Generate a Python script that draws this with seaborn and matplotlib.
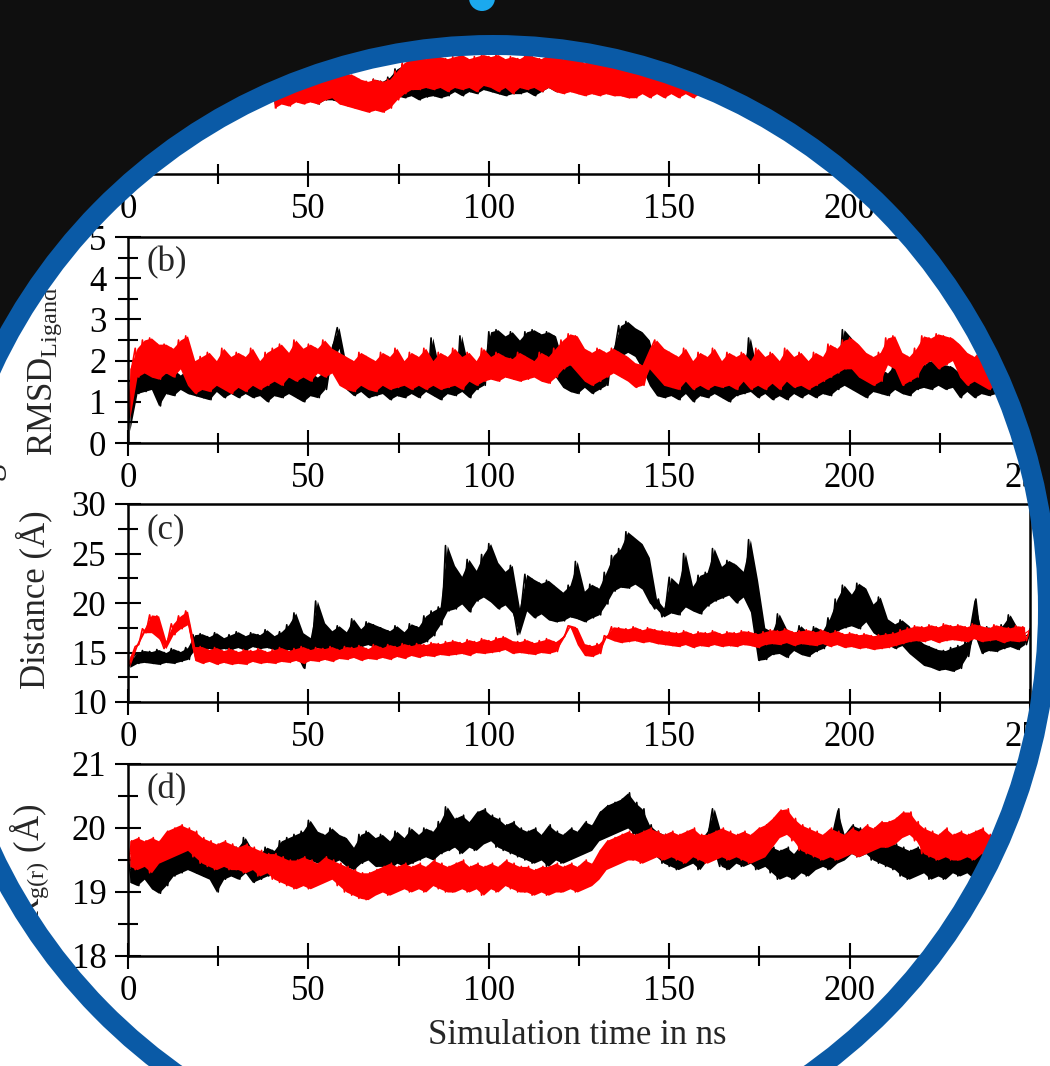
import numpy as np
import pandas as pd
import matplotlib
matplotlib.use("Agg")
import matplotlib.pyplot as plt
from matplotlib.patches import Polygon, Ellipse, Circle
from matplotlib.transforms import Affine2D
from matplotlib.ticker import MultipleLocator
import seaborn as sns

# ---- data (1 ns sampling) ----
# panel (a): only 40-170 ns is visible inside the lens
a_black = [2.2, 1.7, 2.35, 1.75, 2.3, 1.7, 2.35, 1.8, 2.3, 1.75,
           2.35, 1.8, 2.3, 1.7, 2.35, 1.8, 2.4, 1.8, 2.35, 1.75,
           2.3, 1.7, 2.2, 1.65, 2.25, 1.6, 2.2, 1.65, 2.3, 1.7,
           2.25, 1.75, 2.35, 1.8, 2.55, 1.9, 2.65, 1.85, 2.55, 1.9,
           2.65, 1.8, 2.55, 1.87, 2.65, 1.9, 2.75, 1.85, 2.55, 1.9,
           2.65, 2.0, 2.75, 1.9, 2.55, 2.0, 2.8, 1.95, 2.65, 2.05,
           2.75, 2.0, 2.8, 1.95, 2.65, 1.9, 2.8, 1.95, 2.75, 1.95,
           2.8, 2.0, 2.75, 1.9, 2.65, 2.0, 2.75, 2.1, 2.65, 2.0,
           2.65, 2.0, 2.75, 2.05, 2.65, 2.0, 2.55, 1.95, 2.65, 2.0,
           2.55, 1.95, 2.65, 2.0, 2.55, 1.95, 2.65, 2.0, 2.55, 1.95,
           2.55, 2.1, 2.5, 2.05, 2.55, 2.1, 2.5, 2.05, 2.55, 2.1,
           2.5, 2.05, 2.55, 2.1, 2.5, 2.0, 2.55, 2.1, 2.5, 2.05,
           2.5, 2.1, 2.55, 2.05, 2.5, 2.1, 2.55, 2.0, 2.5, 2.1, 2.5]
a_red = [2.4, 1.6, 2.5, 1.7, 2.55, 1.65, 2.5, 1.75, 2.6, 1.7,
         2.55, 1.75, 2.6, 1.7, 2.5, 1.8, 2.65, 1.85, 2.55, 1.7,
         2.45, 1.65, 2.4, 1.6, 2.3, 1.55, 2.25, 1.5, 2.3, 1.55,
         2.25, 1.5, 2.3, 1.6, 2.5, 1.8, 2.7, 1.95, 2.8, 2.05,
         2.85, 2.05, 2.8, 2.1, 2.9, 2.05, 2.85, 2.1, 2.8, 2.0,
         2.85, 2.1, 2.9, 2.05, 2.8, 2.1, 2.85, 2.0, 2.9, 2.15,
         2.85, 2.1, 2.9, 2.0, 2.8, 2.1, 2.85, 1.95, 2.8, 2.1,
         2.9, 2.05, 2.85, 2.1, 2.8, 2.0, 2.9, 2.1, 2.85, 2.0,
         2.8, 1.95, 2.85, 2.0, 2.8, 1.95, 2.7, 1.9, 2.75, 1.95,
         2.7, 1.9, 2.75, 1.95, 2.7, 1.9, 2.65, 1.9, 2.7, 1.85,
         2.65, 1.85, 2.7, 1.95, 2.6, 1.85, 2.7, 1.95, 2.6, 1.85,
         2.7, 1.95, 2.6, 1.85, 2.7, 1.95, 2.6, 1.85, 2.7, 1.95,
         2.6, 1.85, 2.7, 1.95, 2.6, 1.85, 2.7, 1.95, 2.6, 1.85, 2.7]

# panel (b): ligand RMSD
b_black = [0.3, 1.3, 1.75, 1.2, 1.8, 1.25, 1.7, 1.3, 1.75, 0.9,
           1.7, 1.2, 1.8, 1.15, 1.65, 1.3, 1.8, 1.2, 1.6, 1.15,
           1.7, 1.1, 1.6, 1.05, 1.7, 1.25, 1.75, 1.1, 1.6, 1.2,
           1.75, 1.1, 1.65, 1.2, 1.8, 1.1, 1.6, 1.15, 1.7, 1.0,
           1.65, 1.15, 1.75, 1.1, 1.6, 1.2, 1.8, 1.1, 1.65, 1.0,
           1.7, 1.15, 1.6, 1.1, 1.75, 1.3, 1.9, 2.4, 2.8, 2.3,
           1.9, 1.3, 1.8, 1.15, 1.85, 1.25, 1.7, 1.1, 1.8, 1.15,
           1.7, 1.2, 1.8, 1.05, 1.65, 1.15, 1.85, 1.1, 1.7, 1.2,
           1.8, 1.1, 1.7, 1.25, 2.55, 1.15, 1.7, 1.05, 1.8, 1.2,
           1.7, 1.15, 2.6, 1.25, 1.8, 1.1, 1.7, 1.3, 2.0, 1.4,
           2.7, 1.8, 2.75, 1.9, 2.6, 1.75, 2.7, 2.0, 2.5, 1.7,
           2.7, 1.9, 2.75, 1.8, 2.65, 2.0, 2.7, 1.75, 2.6, 1.6,
           2.0, 1.35, 1.9, 1.25, 1.85, 1.2, 1.9, 1.35, 1.8, 1.2,
           1.9, 1.3, 1.8, 1.4, 2.2, 2.3, 2.85, 2.1, 2.95, 2.2,
           2.8, 2.1, 2.7, 1.8, 2.5, 1.4, 1.8, 1.15, 1.7, 1.1,
           1.8, 1.15, 1.65, 1.05, 1.75, 1.2, 1.8, 1.0, 1.6, 1.15,
           1.7, 1.1, 1.65, 1.2, 1.8, 1.1, 1.6, 1.0, 1.7, 1.15,
           1.9, 1.2, 2.55, 1.25, 1.7, 1.1, 1.6, 1.2, 1.8, 1.05,
           1.7, 1.15, 1.6, 1.05, 1.8, 1.2, 1.7, 1.1, 1.6, 1.2,
           1.8, 1.1, 1.7, 1.2, 1.6, 1.15, 2.0, 1.3, 2.75, 1.4,
           2.55, 1.3, 1.8, 1.2, 1.7, 1.1, 1.6, 1.25, 1.8, 1.2,
           1.7, 1.15, 1.9, 1.3, 1.7, 1.2, 1.6, 1.15, 1.8, 1.3,
           1.9, 1.35, 2.0, 1.3, 1.85, 1.4, 1.9, 1.3, 1.85, 1.35,
           1.7, 1.1, 1.6, 1.25, 1.8, 1.1, 1.7, 1.2, 1.6, 1.15,
           1.8, 1.2, 1.7, 1.1, 1.65, 1.25, 1.8, 1.15, 1.7, 1.2, 1.6]
b_red = [0.6, 1.8, 2.3, 1.6, 2.5, 1.7, 2.55, 1.6, 2.4, 1.55,
         2.4, 1.7, 2.3, 1.6, 2.5, 1.8, 2.6, 1.4, 2.0, 1.2,
         2.1, 1.3, 2.2, 1.25, 2.0, 1.4, 2.3, 1.3, 2.1, 1.2,
         2.2, 1.35, 2.1, 1.25, 2.3, 1.4, 2.0, 1.3, 2.2, 1.4,
         2.3, 1.5, 2.4, 1.4, 2.2, 1.6, 2.5, 1.5, 2.3, 1.6,
         2.4, 1.5, 2.3, 1.7, 2.5, 1.6, 2.3, 1.7, 2.2, 1.4,
         2.1, 1.3, 2.0, 1.25, 2.2, 1.4, 2.1, 1.3, 2.0, 1.25,
         2.2, 1.4, 2.1, 1.3, 2.3, 1.35, 2.0, 1.4, 2.2, 1.3,
         2.1, 1.4, 2.3, 1.3, 2.0, 1.4, 2.2, 1.3, 2.1, 1.35,
         2.3, 1.4, 2.1, 1.3, 2.2, 1.5, 2.0, 1.4, 2.3, 1.5,
         2.1, 1.55, 2.2, 1.5, 2.1, 1.6, 2.05, 1.55, 2.2, 1.5,
         2.1, 1.55, 2.0, 1.6, 2.2, 1.5, 2.1, 1.45, 2.3, 1.6,
         2.5, 1.8, 2.65, 1.9, 2.6, 1.7, 2.3, 1.5, 2.2, 1.4,
         2.3, 1.5, 2.2, 1.6, 2.3, 1.7, 2.2, 1.6, 2.1, 1.5,
         1.95, 1.35, 1.9, 1.4, 1.8, 2.3, 2.5, 1.6, 2.3, 1.4,
         2.2, 1.35, 2.1, 1.3, 2.3, 1.5, 2.0, 1.3, 2.2, 1.4,
         2.1, 1.3, 2.3, 1.4, 2.0, 1.35, 2.2, 1.4, 2.1, 1.3,
         2.2, 1.5, 2.0, 1.3, 2.3, 1.4, 2.1, 1.3, 2.2, 1.45,
         2.0, 1.3, 2.3, 1.5, 2.1, 1.35, 2.2, 1.4, 2.0, 1.3,
         2.2, 1.4, 2.1, 1.5, 2.4, 1.6, 2.3, 1.7, 2.5, 1.8,
         2.55, 1.8, 2.4, 1.6, 2.2, 1.5, 2.1, 1.4, 2.2, 1.5,
         2.55, 1.9, 2.6, 1.8, 2.2, 1.4, 2.1, 1.5, 2.3, 1.6,
         2.6, 1.9, 2.55, 2.0, 2.65, 1.8, 2.6, 1.9, 2.55, 2.0,
         2.4, 1.6, 2.2, 1.4, 2.1, 1.5, 2.3, 1.4, 2.1, 1.3,
         2.2, 1.4, 2.1, 1.5, 2.3, 1.4, 2.0, 1.3, 2.2, 1.5, 2.1]

# panel (c): distance
c_black = [13.5, 14.0, 15.0, 13.9, 15.2, 14.0, 15.1, 13.9, 15.3, 13.8,
           15.0, 14.0, 15.4, 13.9, 15.1, 14.1, 15.5, 14.3, 16.8, 15.3,
           16.9, 15.2, 16.6, 15.4, 17.0, 15.2, 16.5, 15.4, 16.8, 15.3,
           17.1, 15.5, 16.7, 15.2, 17.0, 15.6, 16.8, 15.4, 17.3, 15.5,
           16.7, 15.3, 17.1, 15.0, 17.8, 15.3, 19.0, 14.9, 17.0, 13.4,
           16.5, 15.1, 20.2, 15.5, 18.0, 15.1, 17.2, 15.4, 17.7, 15.3,
           17.1, 15.5, 18.4, 15.3, 17.4, 15.6, 18.1, 15.8, 17.8, 15.5,
           17.5, 15.4, 17.2, 15.2, 17.7, 15.1, 17.1, 15.3, 17.9, 15.5,
           17.6, 15.8, 18.7, 16.1, 19.2, 16.7, 19.6, 17.8, 25.8, 19.2,
           23.8, 19.4, 22.7, 19.9, 24.4, 19.1, 23.3, 20.2, 24.9, 20.6,
           26.0, 20.1, 24.1, 19.4, 23.2, 19.8, 23.8, 19.0, 16.8, 19.5,
           22.9, 19.2, 22.4, 18.5, 22.0, 18.9, 22.3, 18.3, 21.7, 18.1,
           21.1, 18.2, 21.8, 18.6, 24.2, 18.4, 21.2, 18.1, 21.9, 18.5,
           21.5, 18.8, 23.1, 19.9, 24.8, 21.2, 25.5, 21.6, 27.2, 21.5,
           26.6, 21.9, 26.0, 21.4, 24.6, 20.0, 19.4, 20.4, 18.6, 19.5,
           22.6, 19.0, 21.9, 18.8, 25.0, 19.6, 21.7, 19.2, 22.8, 18.9,
           23.1, 19.7, 25.5, 20.2, 23.7, 20.5, 24.3, 20.8, 23.9, 20.0,
           23.2, 20.6, 26.4, 19.1, 22.3, 14.2, 17.5, 14.3, 17.1, 14.8,
           18.9, 14.9, 17.4, 14.5, 16.8, 15.2, 17.7, 14.8, 17.0, 14.6,
           17.6, 15.1, 17.2, 15.4, 18.5, 16.0, 20.4, 17.2, 21.8, 17.5,
           20.9, 17.7, 22.0, 17.4, 21.5, 18.1, 19.9, 17.0, 20.6, 16.5,
           18.4, 15.8, 17.9, 15.4, 18.3, 15.7, 17.7, 14.9, 16.5, 14.3,
           15.9, 13.7, 15.6, 13.5, 15.3, 13.2, 15.2, 13.3, 15.5, 13.1,
           15.7, 13.4, 16.1, 14.6, 16.9, 20.4, 17.2, 14.9, 17.6, 15.2,
           17.1, 15.1, 17.8, 15.4, 18.8, 15.6, 17.5, 15.3, 17.3, 15.8, 17.1]
c_red = [13.6, 14.6, 15.6, 15.8, 17.4, 17.0, 18.8, 17.0, 18.7, 16.4,
         15.4, 16.2, 17.9, 16.8, 18.7, 17.4, 19.2, 17.8, 15.6, 14.2,
         15.6, 13.9, 15.3, 14.1, 15.5, 13.8, 15.2, 14.0, 15.4, 13.8,
         15.1, 13.9, 15.3, 13.8, 15.2, 14.1, 15.4, 13.9, 15.1, 14.0,
         15.3, 13.9, 15.5, 14.1, 15.2, 14.0, 15.4, 14.2, 15.6, 13.9,
         15.3, 14.2, 15.5, 14.1, 15.4, 14.3, 15.6, 14.1, 15.3, 14.4,
         15.6, 14.3, 15.5, 14.5, 15.7, 14.2, 15.4, 14.4, 15.8, 14.3,
         15.5, 14.5, 15.8, 14.3, 15.6, 14.6, 15.9, 14.4, 15.7, 14.7,
         15.9, 14.5, 15.8, 14.7, 16.0, 14.6, 15.9, 14.8, 16.1, 14.7,
         16.2, 14.8, 16.0, 14.9, 16.3, 14.7, 16.1, 15.0, 16.4, 14.9,
         16.2, 15.0, 16.5, 15.1, 16.6, 15.3, 16.2, 14.9, 16.1, 15.0,
         16.3, 14.9, 16.0, 14.8, 16.2, 15.0, 16.4, 14.9, 16.1, 15.1,
         16.3, 16.6, 17.7, 17.6, 17.5, 15.8, 15.9, 14.7, 15.7, 14.6,
         15.9, 14.9, 16.7, 16.5, 17.6, 16.2, 17.5, 16.0, 17.4, 16.1,
         17.6, 16.2, 17.3, 16.0, 17.5, 16.1, 17.3, 15.9, 17.2, 15.8,
         17.1, 15.7, 17.0, 15.6, 17.2, 15.8, 16.9, 15.5, 17.1, 15.7,
         17.0, 15.6, 17.2, 15.8, 16.9, 15.6, 17.1, 15.7, 17.0, 15.6,
         17.2, 15.8, 17.1, 15.7, 16.9, 15.5, 17.1, 15.8, 17.3, 15.9,
         17.2, 15.8, 17.4, 16.0, 17.1, 15.7, 17.2, 15.9, 17.3, 15.8,
         17.1, 15.7, 17.3, 15.9, 17.0, 15.6, 17.2, 15.8, 16.9, 15.5,
         17.0, 15.6, 16.8, 15.4, 16.9, 15.5, 16.7, 15.3, 16.8, 15.4,
         16.9, 15.5, 17.0, 15.7, 17.3, 15.9, 17.5, 16.1, 17.7, 16.2,
         17.6, 16.1, 17.8, 16.3, 17.6, 16.0, 17.9, 16.2, 17.7, 16.3,
         17.8, 16.2, 17.6, 16.1, 17.9, 16.4, 17.7, 16.1, 17.5, 16.2,
         17.8, 16.3, 17.6, 16.0, 17.5, 16.2, 17.7, 16.1, 17.6, 16.2, 17.4]

# panel (d)
d_black = [19.55, 19.15, 19.6, 19.1, 19.65, 19.2, 19.55, 19.05, 19.5, 18.98,
           19.6, 19.1, 19.7, 19.25, 19.8, 19.3, 19.85, 19.35, 19.8, 19.3,
           19.7, 19.25, 19.65, 19.2, 19.6, 19.0, 19.7, 19.2, 19.65, 19.25,
           19.7, 19.2, 19.85, 19.3, 19.65, 19.15, 19.6, 19.2, 19.7, 19.25,
           19.65, 19.3, 19.8, 19.35, 19.85, 19.4, 19.9, 19.45, 19.95, 19.5,
           20.12, 19.5, 19.95, 19.45, 19.9, 19.5, 20.0, 19.45, 19.9, 19.5,
           19.85, 19.4, 19.7, 19.35, 19.9, 19.45, 19.95, 19.5, 19.85, 19.4,
           19.9, 19.4, 19.8, 19.35, 19.95, 19.45, 19.85, 19.4, 20.0, 19.45,
           19.9, 19.5, 20.0, 19.55, 19.95, 19.5, 20.1, 19.6, 20.33, 19.65,
           19.7, 20.15, 19.6, 20.2, 19.7, 20.1, 19.65, 20.25, 19.75, 20.3,
           19.8, 20.2, 19.7, 20.15, 19.65, 20.05, 19.6, 20.1, 19.55, 20.0,
           19.5, 19.95, 19.45, 20.0, 19.5, 19.9, 19.4, 20.05, 19.5, 19.95,
           19.45, 19.9, 19.5, 20.0, 19.55, 19.95, 19.6, 20.1, 19.65, 20.05,
           19.8, 20.25, 19.85, 20.35, 19.9, 20.4, 19.95, 20.45, 20.0, 20.55,
           19.9, 20.4, 19.85, 20.3, 19.7, 20.05, 19.55, 19.95, 19.45, 19.9,
           19.4, 19.85, 19.35, 19.8, 19.4, 19.9, 19.45, 19.85, 19.35, 19.8,
           19.5, 19.95, 20.3, 19.6, 19.4, 19.9, 19.35, 19.8, 19.45, 19.85,
           19.4, 19.9, 19.45, 19.8, 19.35, 19.85, 19.4, 19.8, 19.3, 19.7,
           19.2, 19.65, 19.25, 19.7, 19.2, 19.6, 19.3, 19.75, 19.25, 19.7,
           19.35, 19.8, 19.4, 19.85, 19.35, 19.8, 19.45, 20.3, 19.5, 19.9,
           19.6, 20.05, 19.55, 20.0, 19.6, 19.95, 19.5, 19.9, 19.45, 19.85,
           19.4, 19.8, 19.35, 19.75, 19.25, 19.7, 19.2, 19.65, 19.25, 19.7,
           19.3, 19.65, 19.2, 19.7, 19.25, 19.65, 19.2, 19.6, 19.3, 19.7,
           19.25, 19.65, 19.3, 19.7, 19.2, 19.6, 19.35, 19.75, 19.3, 19.65,
           19.35, 19.7, 19.3, 19.75, 19.4, 19.8, 19.35, 19.7, 19.4, 19.75, 19.5]
d_red = [19.4, 19.8, 19.35, 19.85, 19.4, 19.8, 19.3, 19.85, 19.45, 19.8,
         19.5, 19.95, 19.55, 20.0, 19.6, 20.05, 19.65, 20.0, 19.55, 19.95,
         19.45, 19.85, 19.4, 19.8, 19.35, 19.75, 19.4, 19.8, 19.35, 19.75,
         19.35, 19.7, 19.3, 19.75, 19.35, 19.7, 19.25, 19.65, 19.3, 19.6,
         19.2, 19.6, 19.15, 19.55, 19.1, 19.5, 19.05, 19.5, 19.1, 19.55,
         19.05, 19.5, 19.1, 19.45, 19.15, 19.55, 19.2, 19.5, 19.1, 19.45,
         19.0, 19.4, 18.95, 19.35, 18.9, 19.3, 18.88, 19.3, 18.95, 19.35,
         19.0, 19.4, 18.95, 19.45, 19.0, 19.4, 19.05, 19.45, 19.0, 19.4,
         19.05, 19.45, 19.0, 19.4, 19.1, 19.5, 19.05, 19.45, 19.0, 19.4,
         19.0, 19.45, 19.05, 19.5, 19.0, 19.4, 19.05, 19.45, 18.95, 19.4,
         19.05, 19.45, 19.0, 19.4, 19.1, 19.5, 19.05, 19.45, 19.0, 19.4,
         19.0, 19.4, 18.95, 19.35, 19.0, 19.4, 18.95, 19.4, 19.0, 19.45,
         19.0, 19.4, 19.05, 19.45, 19.0, 19.4, 19.05, 19.5, 19.1, 19.45,
         19.2, 19.65, 19.35, 19.8, 19.4, 19.85, 19.45, 19.9, 19.5, 19.95,
         19.5, 19.9, 19.45, 19.95, 19.5, 20.0, 19.55, 19.95, 19.5, 19.9,
         19.55, 19.95, 19.5, 19.9, 19.45, 19.95, 19.55, 20.0, 19.5, 19.9,
         19.45, 19.9, 19.5, 19.95, 19.55, 20.0, 19.5, 19.95, 19.55, 19.9,
         19.5, 19.95, 19.45, 19.9, 19.5, 20.0, 19.55, 20.05, 19.7, 20.15,
         19.85, 20.28, 19.9, 20.3, 19.8, 20.15, 19.65, 20.05, 19.6, 20.0,
         19.55, 19.95, 19.5, 19.9, 19.55, 20.0, 19.5, 19.95, 19.55, 19.9,
         19.6, 20.0, 19.55, 19.95, 19.6, 20.05, 19.65, 20.0, 19.7, 20.1,
         19.7, 20.1, 19.75, 20.15, 19.85, 20.25, 19.9, 20.25, 19.8, 20.1,
         19.6, 20.0, 19.55, 19.95, 19.5, 19.9, 19.55, 20.0, 19.5, 19.9,
         19.5, 19.95, 19.55, 19.9, 19.5, 19.95, 19.6, 20.0, 19.55, 19.9,
         19.5, 19.9, 19.55, 19.95, 19.5, 19.9, 19.6, 20.0, 19.5, 19.9, 19.6]

t_full = np.arange(0, 251)      # 1 ns sampling
t_a = np.arange(40, 171)

ylims = [(0, 5), (0, 5), (10, 30), (18, 21)]
ymajor = [1, 1, 5, 1]
yminor = [0.5, 0.5, 2.5, 0.5]
panel_tags = ["(a)", "(b)", "(c)", "(d)"]
x_label = "Simulation time in ns"
run_colors = {'black': 'black', 'red': '#ff0000'}
run_z = {'black': 2, 'red': 4}

# axes boxes in pixels (top, bottom) of the 1050x1066 canvas
W, H = 1050, 1066
X0, X1 = 128, 1030
boxes = [(-32, 174), (237, 443), (504, 702), (764, 956)]

sns.set_style("ticks")
plt.rcParams['font.family'] = ['Liberation Serif', 'DejaVu Serif']
plt.rcParams['mathtext.fontset'] = 'custom'
plt.rcParams['mathtext.rm'] = 'Liberation Serif'
plt.rcParams['mathtext.it'] = 'Liberation Serif:italic'
FS = 25

fig = plt.figure(figsize=(W / 100, H / 100), dpi=100, facecolor='white')
# pixel coordinates, origin at top-left
px = Affine2D().scale(1 / 100, -1 / 100).translate(0, H / 100) + fig.dpi_scale_trans

def trace_frame(t, values):
    df = pd.DataFrame({'time': t, 'value': values})
    # pair consecutive frames so seaborn can shade the min-max spread of the noise
    df['window'] = (df['time'] // 2) * 2 + 0.5
    return df

series = [(t_a, a_black, a_red), (t_full, b_black, b_red),
          (t_full, c_black, c_red), (t_full, d_black, d_red)]

axes = []
for i, (top, bot) in enumerate(boxes):
    ax = fig.add_axes([X0 / W, 1 - bot / H, (X1 - X0) / W, (bot - top) / H])
    t, blk, red = series[i]
    for run, vals in (('black', blk), ('red', red)):
        df = trace_frame(t, vals)
        col, z = run_colors[run], run_z[run]
        sns.lineplot(data=df, x='window', y='value', color=col, lw=0.8,
                     estimator='mean', errorbar=('pi', 100), zorder=z + 0.5,
                     err_kws={'alpha': 1, 'lw': 0, 'zorder': z}, ax=ax)
        sns.lineplot(data=df, x='time', y='value', color=col, lw=1.2,
                     estimator=None, sort=False, zorder=z + 0.5, ax=ax)
    ax.set_xlim(0, 250)
    ax.set_ylim(*ylims[i])
    ax.xaxis.set_major_locator(MultipleLocator(50))
    ax.xaxis.set_minor_locator(MultipleLocator(25))
    ax.yaxis.set_major_locator(MultipleLocator(ymajor[i]))
    ax.yaxis.set_minor_locator(MultipleLocator(yminor[i]))
    ax.tick_params(which='both', direction='inout', width=1.5, top=False, right=False,
                   labelsize=FS, colors='black')
    ax.tick_params(which='major', length=19)
    ax.tick_params(which='minor', length=15)
    ax.tick_params(axis='x', pad=4)
    ax.tick_params(axis='y', pad=6)
    for s in ax.spines.values():
        s.set_linewidth(1.8)
        s.set_color('black')
        s.set_zorder(6)
    ax.set_xlabel('')
    ax.set_ylabel('')
    ax.text(146, (top + 26) if i else 0, panel_tags[i], transform=px,
            fontsize=FS, ha='left', va='center')
    axes.append(ax)

ax_a, ax_b, ax_c, ax_d = axes
ax_b.set_ylabel(r"RMSD$_{\rm Ligand}$", fontsize=FS, va='center')
ax_b.yaxis.set_label_coords(45, 371, transform=px)
ax_c.set_ylabel("Distance (Å)", fontsize=FS, va='center')
ax_c.yaxis.set_label_coords(34, 600, transform=px)
ax_c.text(-11, 520, "Protein–Ligand", transform=px, rotation=90,
          fontsize=FS, ha='center', va='center')
ax_d.set_ylabel(r"R$_{\rm g(r)}$ (Å)", fontsize=FS, va='center')
ax_d.yaxis.set_label_coords(29, 863, transform=px)
ax_d.set_xlabel(x_label, fontsize=FS, va='center')
ax_d.xaxis.set_label_coords(577, 1035, transform=px)

# ---- lens overlay: dark top, white bottom, blue ring ----
cx, cy, ea, eb = 493, 610, 555, 565
theta_top = np.linspace(0, -np.pi, 200)
theta_bot = np.linspace(np.pi, 0, 200)
top_arc = np.column_stack([cx + ea * np.cos(theta_top), cy + eb * np.sin(theta_top)])
bot_arc = np.column_stack([cx + ea * np.cos(theta_bot), cy + eb * np.sin(theta_bot)])
dark_pts = np.vstack([[[-20, cy], [-20, -20], [W + 20, -20], [W + 20, cy]], top_arc])
white_pts = np.vstack([[[W + 20, cy], [W + 20, H + 20], [-20, H + 20], [-20, cy]], bot_arc])
fig.add_artist(Polygon(white_pts, closed=True, transform=px, fc='white', ec='none', zorder=5))
fig.add_artist(Polygon(dark_pts, closed=True, transform=px, fc='#0f0f0f', ec='none', zorder=5))
fig.add_artist(Ellipse((cx, cy), 2 * ea, 2 * eb, transform=px, fill=False,
                       ec='#0a5aa6', lw=20 * 0.72, zorder=6))
fig.add_artist(Circle((482, -2), 13, transform=px, fc='#1ba9ee', ec='none', zorder=6))

fig.savefig("out.png", dpi=100, facecolor='white')
